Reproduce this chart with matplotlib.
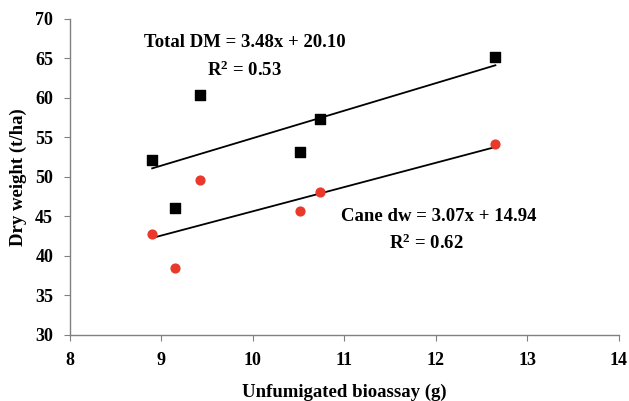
import matplotlib
matplotlib.use("Agg")
import matplotlib.pyplot as plt
from matplotlib import font_manager as fm
import numpy as np

x_vals = [8.90, 9.15, 9.42, 10.51, 10.73, 12.65]
total_dm = [52.15, 46.1, 60.4, 53.2, 57.3, 65.2]
cane_dw = [42.8, 38.5, 49.6, 45.7, 48.1, 54.1]
total_fit = (3.48, 20.10)
cane_fit = (3.07, 14.94)
x_ticks = list(range(8, 15))
y_ticks = list(range(30, 71, 5))

plt.rcParams['font.family'] = ['Liberation Serif', 'DejaVu Serif']
plt.rcParams['font.weight'] = 'bold'
plt.rcParams['mathtext.fontset'] = 'custom'
plt.rcParams['mathtext.rm'] = 'Liberation Serif:bold'
plt.rcParams['mathtext.bf'] = 'Liberation Serif:bold'
plt.rcParams['mathtext.it'] = 'Liberation Serif:bold'

bold_path = fm.findfont(fm.FontProperties(family='Liberation Serif', weight='bold'))
tick_fp = fm.FontProperties(fname=bold_path, size=13)

fig = plt.figure(figsize=(6.29, 4.01), dpi=100)
ax = fig.add_axes([0.111, 0.165, 0.873, 0.788])

ax.scatter(x_vals, total_dm, marker='s', s=45, color='black', zorder=3)
ax.scatter(x_vals, cane_dw, marker='o', s=40, color='#e8392a', zorder=3)

xl = np.array([min(x_vals), max(x_vals)])
ax.plot(xl, total_fit[0] * xl + total_fit[1], color='black', lw=1.3)
ax.plot(xl, cane_fit[0] * xl + cane_fit[1], color='black', lw=1.3)

ax.set_xlim(8, 14)
ax.set_ylim(30, 70)
for s in ['top', 'right']:
    ax.spines[s].set_visible(False)
for s in ['left', 'bottom']:
    ax.spines[s].set_color('#808080')
    ax.spines[s].set_linewidth(1.0)
ax.tick_params(direction='out', length=4, color='#808080', pad=8)
ax.set_xticks(x_ticks)
ax.set_yticks(y_ticks)
ax.set_xticklabels([str(v) for v in x_ticks], fontproperties=tick_fp)
ax.set_yticklabels([str(v) for v in y_ticks], fontproperties=tick_fp)

ax.set_xlabel('Unfumigated bioassay (g)', fontsize=13.5, fontweight='bold', labelpad=11)
ax.set_ylabel('Dry weight (t/ha)', fontsize=13.5, fontweight='bold', labelpad=6)

fs = 13.5
ax.text(9.91, 67.0, 'Total DM = 3.48x + 20.10', ha='center', va='center', fontsize=fs, fontweight='bold')
ax.text(9.91, 63.5, r'R$^{2}$ = 0.53', ha='center', va='center', fontsize=fs, fontweight='bold')
ax.text(12.03, 45.0, 'Cane dw = 3.07x + 14.94', ha='center', va='center', fontsize=fs, fontweight='bold')
ax.text(11.9, 41.6, r'R$^{2}$ = 0.62', ha='center', va='center', fontsize=fs, fontweight='bold')

fig.savefig('out.png', dpi=100)
